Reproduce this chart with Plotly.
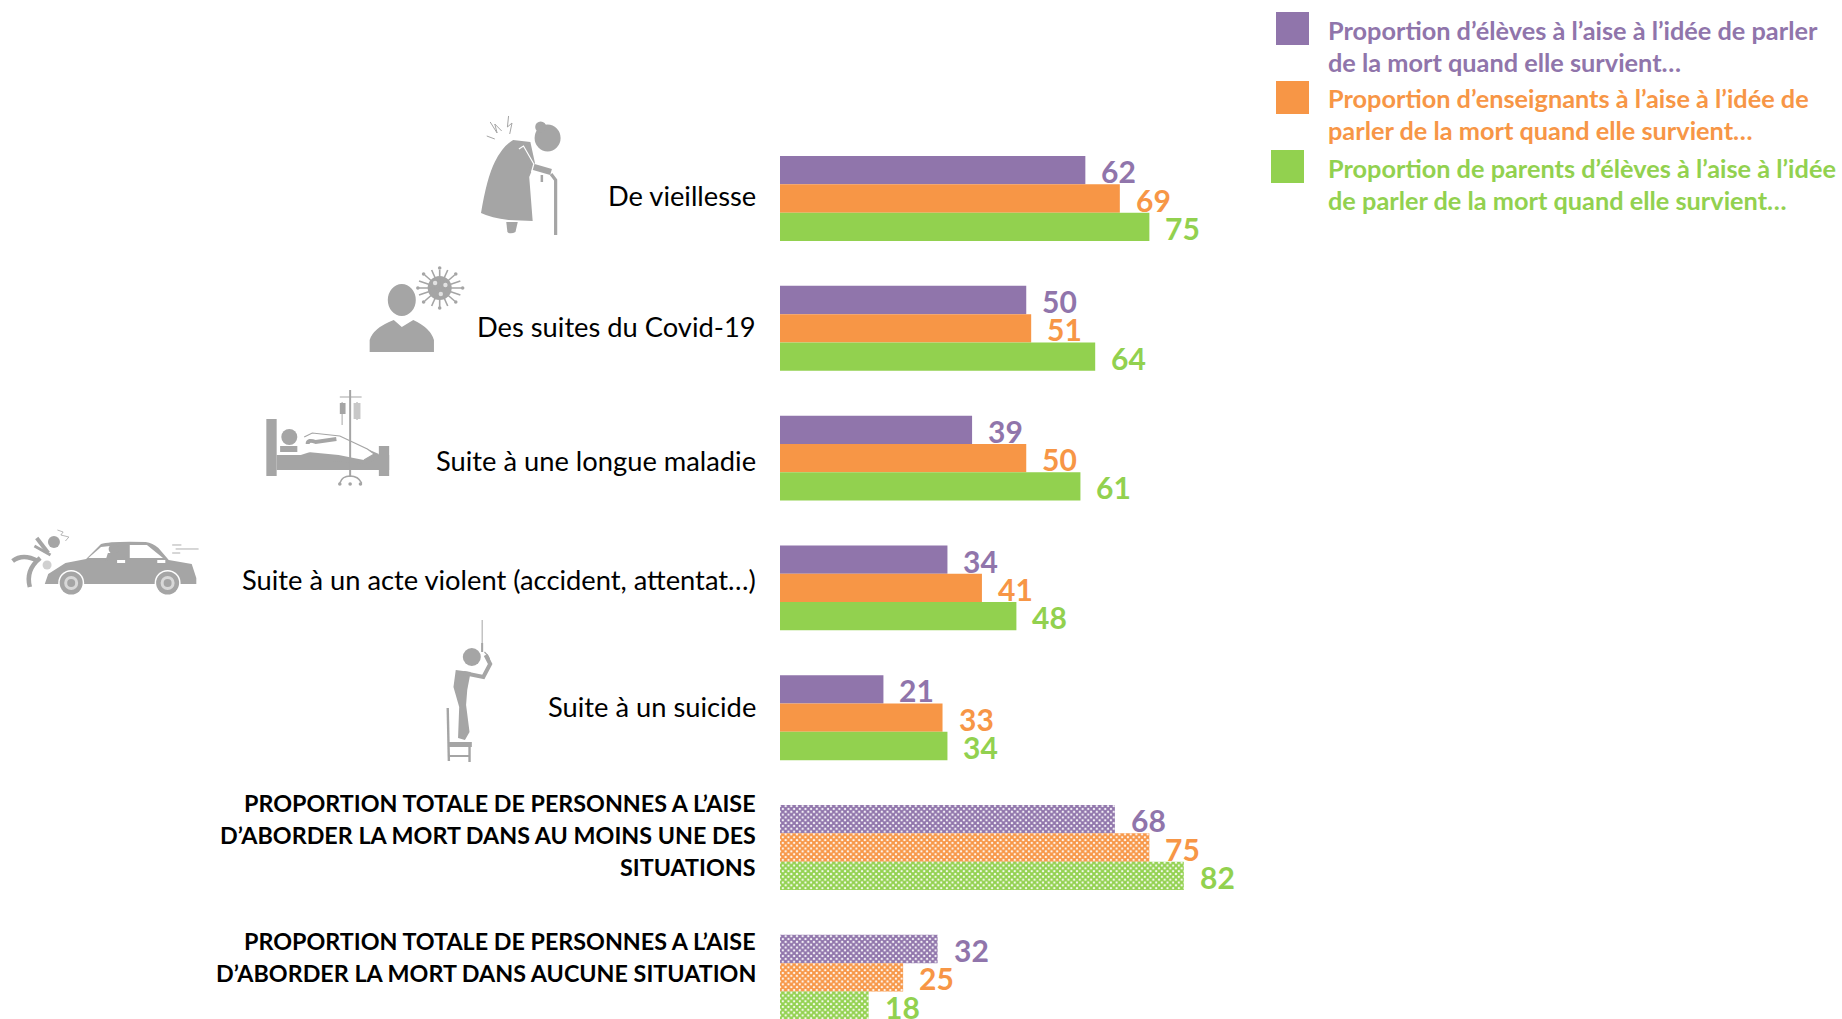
import re
import plotly.graph_objects as go

W, H = 1842, 1019

# ---- data ----
categories = [
    "De vieillesse",
    "Des suites du Covid-19",
    "Suite à une longue maladie",
    "Suite à un acte violent (accident, attentat…)",
    "Suite à un suicide",
    "PROPORTION TOTALE DE PERSONNES A L’AISE D’ABORDER LA MORT DANS AU MOINS UNE DES SITUATIONS",
    "PROPORTION TOTALE DE PERSONNES A L’AISE D’ABORDER LA MORT DANS AUCUNE SITUATION",
]
eleves = [62, 50, 39, 34, 21, 68, 32]
enseignants = [69, 51, 50, 41, 33, 75, 25]
parents = [75, 64, 61, 48, 34, 82, 18]
series_names = [
    "Proportion d’élèves à l’aise à l’idée de parler de la mort quand elle survient…",
    "Proportion d’enseignants à l’aise à l’idée de parler de la mort quand elle survient…",
    "Proportion de parents d’élèves à l’aise à l’idée de parler de la mort quand elle survient…",
]
hatch_flags = [False, False, False, False, False, True, True]

# ---- text layout (lines as set in the picture) ----
category_lines = [
    [("De vieillesse", 195)],
    [("Des suites du Covid-19", 327)],
    [("Suite à une longue maladie", 460)],
    [("Suite à un acte violent (accident, attentat…)", 579)],
    [("Suite à un suicide", 706)],
    [("PROPORTION TOTALE DE PERSONNES A L’AISE", 803),
     ("D’ABORDER LA MORT DANS AU MOINS UNE DES", 835),
     ("SITUATIONS", 867)],
    [("PROPORTION TOTALE DE PERSONNES A L’AISE", 941),
     ("D’ABORDER LA MORT DANS AUCUNE SITUATION", 973)],
]
legend_lines = [
    [("Proportion d’élèves à l’aise à l’idée de parler", 30), ("de la mort quand elle survient…", 62)],
    [("Proportion d’enseignants à l’aise à l’idée de", 98), ("parler de la mort quand elle survient…", 130)],
    [("Proportion de parents d’élèves à l’aise à l’idée", 168), ("de parler de la mort quand elle survient…", 200)],
]
legend_boxes = [(1276, 12), (1276, 81), (1271, 150)]

PURPLE, ORANGE, GREEN, GREY = "#9075AB", "#F79646", "#92D14F", "#A5A5A5"
colors = [PURPLE, ORANGE, GREEN]
FONT = "Lato"

AX_L = 780
PX_PER = 4.925
PITCH = 129.8
FIRST_C = 198.5
BAR_H = 28.3

fig = go.Figure()
for vals, name, col in zip([eleves, enseignants, parents], series_names, colors):
    fig.add_trace(go.Bar(
        y=categories, x=vals, name=name, orientation="h",
        marker=dict(
            color=col, line=dict(width=0),
            pattern=dict(
                shape=["x" if h else "" for h in hatch_flags],
                fgcolor=col, bgcolor="white", size=4, solidity=0.75, fillmode="replace",
            ),
        ),
    ))

annotations = []
for s, (vals, col) in enumerate(zip([eleves, enseignants, parents], colors)):
    for i, v in enumerate(vals):
        annotations.append(dict(
            x=v, y=i, xref="x", yref="y", text=str(v), showarrow=False,
            xanchor="left", yanchor="middle", xshift=14, yshift=-(s - 1) * BAR_H - 1,
            font=dict(family=FONT, size=30, color=col, weight="bold"),
        ))

def px(x):
    return x / W

def py(y):
    return 1 - y / H

for i, lines in enumerate(category_lines):
    bold = hatch_flags[i]
    for txt, y in lines:
        annotations.append(dict(
            x=px(758), y=py(y), xref="paper", yref="paper", text=txt, showarrow=False,
            xanchor="right", yanchor="middle",
            font=dict(family=FONT, size=23.3 if bold else 27.3, color="black",
                      weight="bold" if bold else "normal"),
        ))

for lines, col in zip(legend_lines, colors):
    for txt, y in lines:
        annotations.append(dict(
            x=px(1326), y=py(y), xref="paper", yref="paper", text=txt, showarrow=False,
            xanchor="left", yanchor="middle",
            font=dict(family=FONT, size=25.3, color=col, weight="bold"),
        ))

# ---- shapes: legend swatches and grey pictograms ----
shapes = []
SX = 1.148   # horizontal factor of the pictogram sketch coordinates

def sx(x):
    return px(x * SX)

def rect(x0, y0, x1, y1, c=GREY):
    shapes.append(dict(type="rect", xref="paper", yref="paper", x0=sx(x0), x1=sx(x1),
                       y0=py(y0), y1=py(y1), fillcolor=c, line=dict(width=0)))

def circ(cx, cy, rx, ry=None, c=GREY):
    ry = rx if ry is None else ry
    shapes.append(dict(type="circle", xref="paper", yref="paper",
                       x0=px(cx * SX - rx), x1=px(cx * SX + rx),
                       y0=py(cy - ry), y1=py(cy + ry), fillcolor=c, line=dict(width=0)))

def _conv(d):
    return re.sub(r"(-?\d+\.?\d*),(-?\d+\.?\d*)",
                  lambda m: f"{sx(float(m[1])):.6f},{py(float(m[2])):.6f}", d)

def fill(d, c=GREY):
    shapes.append(dict(type="path", xref="paper", yref="paper", path=_conv(d),
                       fillcolor=c, line=dict(width=0)))

def stroke(d, w=2, c=GREY):
    shapes.append(dict(type="path", xref="paper", yref="paper", path=_conv(d),
                       fillcolor="rgba(0,0,0,0)", line=dict(width=w, color=c)))

for (x, y), c in zip(legend_boxes, colors):
    shapes.append(dict(type="rect", xref="paper", yref="paper", x0=px(x), x1=px(x + 33),
                       y0=py(y), y1=py(y + 33), fillcolor=c, line=dict(width=0)))

# old woman
fill("M447,140 L462,142 L466,163 L461,177 L464,221 L443,220 Q428,218 419,213 Q424,178 431,162 Q438,146 447,140 Z")
circ(477, 138, 13, 13.5)
circ(471, 127, 5.5)
fill("M441,222 L451,222 L449,232 Q446,234 443,233 L442,232 Z")
stroke("M462,166 L480,172", 6)
stroke("M480,174 L484,180 L484,235", 3.2)
stroke("M452,149 L456,146 L465,164 L463,172", 1.2, "white")
stroke("M472,175 L472,182", 2.5)
stroke("M427,122 L433,133 L431,124 L437,131 M443,116 L442,127 L446,123 L444,134 M424,136 L431,139", 1)

# person and virus
circ(350, 300, 14, 16)
fill("M322,352 L322,340 Q325,328 343,320 L350,327 L360,320 Q375,328 378,340 L378,352 Z")
circ(383, 288, 12)
for a, b, c_, d_ in [(383, 270, 383, 307), (365, 288, 402, 288), (370, 275, 396, 301),
                     (396, 275, 370, 301), (376, 270, 390, 306), (390, 270, 376, 306),
                     (365, 281, 401, 295), (365, 295, 401, 281)]:
    stroke(f"M{a},{b} L{c_},{d_}", 1.6)
for a, b in [(383, 268), (383, 308), (364, 288), (403, 288), (369, 274), (397, 274), (369, 302), (397, 302)]:
    circ(a, b, 1.8)
for a, b in [(379, 283), (388, 285), (384, 294)]:
    circ(a, b, 2.2, c="#E2E2E2")

# hospital bed
rect(232, 419, 241, 476)
rect(241, 455, 339, 470)
rect(330, 446, 339, 476)
circ(252, 437, 8)
rect(244, 446, 259, 452)
fill("M300,441 L320,449 L330,454 L330,458 L318,464 L290,461 L262,455 Z")
fill("M265,437 L272,433 L296,436 L320,449 L326,454 L317,460 L308,458 L295,455 L268,452 Z", "white")
stroke("M265,437 L272,433 L296,436 L320,449 L326,454 L317,460", 1.2)
stroke("M268,444 Q268,439 275,442 L293,439", 4)
stroke("M305,390 L305,477", 2)
stroke("M298,402 L298,425 M311,402 L311,420 M296,397 L315,397", 1)
rect(296, 403, 301, 414)
rect(308, 403, 314, 419, "#C8C8C8")
stroke("M296,483 Q298,476 305,476 Q312,476 315,483", 1.6)
circ(296, 484, 1.8)
circ(305, 484, 1.8)
circ(314, 484, 1.8)

# car and pedestrian
fill("M42,574 L57,563 L75,559 L88,544 Q96,541 127,542 Q133,543 138,548 L147,560 L167,564 L171,578 L171,584 L39,584 Z")
fill("M77,558 L88,547 L96,546 L103,558 Z", "white")
fill("M113,545 L128,545 L142,558 L113,558 Z", "white")
circ(99, 549, 5)
fill("M94,553 L104,553 L104,562 L92,560 Z")
rect(102, 560, 109, 563, "white")
rect(137, 560, 144, 563, "white")
for cx in (62, 146):
    circ(cx, 583, 13, c="white")
    circ(cx, 583, 11.5)
    circ(cx, 583, 7, c="#D8D8D8")
    circ(cx, 583, 4)
circ(47, 542, 6)
stroke("M42,553 L32,538", 4)
stroke("M44,555 L30,546", 3)
stroke("M11,561 Q20,553 33,561", 4.5)
stroke("M26,587 Q22,570 35,558", 4.5)
circ(41, 565, 4.5, c="#D0D0D0")
stroke("M50,530 L55,532 L53,535 L60,537 L57,541", 0.8)
stroke("M150,545 L158,545 M153,549 L173,549 M150,553 L157,553", 0.9)

# man on chair
stroke("M420,620 L420,652", 1)
stroke("M420,643 L420,652", 2)
stroke("M422,652 Q428,658 426,664", 1.2)
circ(411, 657, 9)
fill("M397,670 L410,672 L407,690 L406,705 L409,732 L405,740 L399,738 L400,707 L395,687 Z")
stroke("M404,673 L421,677 L427,664 L423,655", 4)
stroke("M390,708 L391,761", 2.4)
rect(391, 742, 411, 747)
stroke("M409,747 L409,762", 2.4)
stroke("M391,756 L409,756", 2)

fig.update_layout(
    width=W, height=H,
    margin=dict(l=0, r=0, t=0, b=0),
    paper_bgcolor="white", plot_bgcolor="white",
    barmode="group", bargap=1 - 3 * BAR_H / PITCH, bargroupgap=0,
    showlegend=False,
    xaxis=dict(domain=[AX_L / W, 1], range=[0, (W - AX_L) / PX_PER], visible=False),
    yaxis=dict(type="category", categoryorder="array", categoryarray=categories,
               range=[(H - FIRST_C) / PITCH, -FIRST_C / PITCH], visible=False),
    shapes=shapes, annotations=annotations,
    font=dict(family=FONT),
)
fig.write_html("out.html", config={"displayModeBar": False},
               post_script="document.body.style.margin='0';document.documentElement.style.overflow='hidden';")
